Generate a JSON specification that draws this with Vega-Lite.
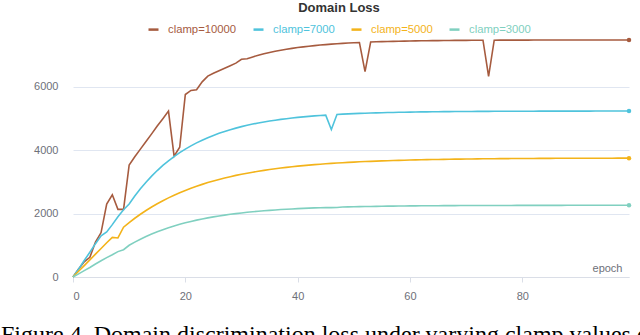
{
  "$schema": "https://vega.github.io/schema/vega-lite/v6.json",
  "autosize": {"type": "none"},
  "width": 556,
  "height": 238,
  "padding": {"left": 73, "top": 39, "right": 11, "bottom": 58},
  "background": "white",
  "title": {
    "text": "Figure 4. Domain discrimination loss under varying clamp values during adversarial training.",
    "orient": "bottom",
    "anchor": "start",
    "frame": "group",
    "dx": -72,
    "offset": 22,
    "baseline": "top",
    "font": "Liberation Serif",
    "fontSize": 24,
    "fontWeight": "normal",
    "color": "#000000"
  },
  "config": {
    "view": {"stroke": null},
    "font": "Liberation Sans"
  },
  "data": {"values": [
    {"epoch":0,"loss":0,"series":"clamp=10000"},{"epoch":1,"loss":250,"series":"clamp=10000"},{"epoch":2,"loss":480,"series":"clamp=10000"},{"epoch":3,"loss":620,"series":"clamp=10000"},{"epoch":4,"loss":1100,"series":"clamp=10000"},{"epoch":5,"loss":1400,"series":"clamp=10000"},{"epoch":6,"loss":2300,"series":"clamp=10000"},{"epoch":7,"loss":2590,"series":"clamp=10000"},{"epoch":8,"loss":2130,"series":"clamp=10000"},{"epoch":9,"loss":2130,"series":"clamp=10000"},
    {"epoch":10,"loss":3530,"series":"clamp=10000"},{"epoch":11,"loss":3790,"series":"clamp=10000"},{"epoch":12,"loss":4030,"series":"clamp=10000"},{"epoch":13,"loss":4270,"series":"clamp=10000"},{"epoch":14,"loss":4510,"series":"clamp=10000"},{"epoch":15,"loss":4760,"series":"clamp=10000"},{"epoch":16,"loss":4990,"series":"clamp=10000"},{"epoch":17,"loss":5230,"series":"clamp=10000"},{"epoch":18,"loss":3810,"series":"clamp=10000"},{"epoch":19,"loss":4090,"series":"clamp=10000"},
    {"epoch":20,"loss":5750,"series":"clamp=10000"},{"epoch":21,"loss":5880,"series":"clamp=10000"},{"epoch":22,"loss":5900,"series":"clamp=10000"},{"epoch":23,"loss":6150,"series":"clamp=10000"},{"epoch":24,"loss":6330,"series":"clamp=10000"},{"epoch":25,"loss":6420,"series":"clamp=10000"},{"epoch":26,"loss":6500,"series":"clamp=10000"},{"epoch":27,"loss":6580,"series":"clamp=10000"},{"epoch":28,"loss":6660,"series":"clamp=10000"},{"epoch":29,"loss":6740,"series":"clamp=10000"},
    {"epoch":30,"loss":6860,"series":"clamp=10000"},{"epoch":31,"loss":6880,"series":"clamp=10000"},{"epoch":32,"loss":6936,"series":"clamp=10000"},{"epoch":33,"loss":6987,"series":"clamp=10000"},{"epoch":34,"loss":7033,"series":"clamp=10000"},{"epoch":35,"loss":7075,"series":"clamp=10000"},{"epoch":36,"loss":7112,"series":"clamp=10000"},{"epoch":37,"loss":7146,"series":"clamp=10000"},{"epoch":38,"loss":7177,"series":"clamp=10000"},{"epoch":39,"loss":7205,"series":"clamp=10000"},
    {"epoch":40,"loss":7230,"series":"clamp=10000"},{"epoch":41,"loss":7253,"series":"clamp=10000"},{"epoch":42,"loss":7274,"series":"clamp=10000"},{"epoch":43,"loss":7292,"series":"clamp=10000"},{"epoch":44,"loss":7309,"series":"clamp=10000"},{"epoch":45,"loss":7324,"series":"clamp=10000"},{"epoch":46,"loss":7338,"series":"clamp=10000"},{"epoch":47,"loss":7351,"series":"clamp=10000"},{"epoch":48,"loss":7362,"series":"clamp=10000"},{"epoch":49,"loss":7372,"series":"clamp=10000"},
    {"epoch":50,"loss":7382,"series":"clamp=10000"},{"epoch":51,"loss":7390,"series":"clamp=10000"},{"epoch":52,"loss":6470,"series":"clamp=10000"},{"epoch":53,"loss":7405,"series":"clamp=10000"},{"epoch":54,"loss":7411,"series":"clamp=10000"},{"epoch":55,"loss":7416,"series":"clamp=10000"},{"epoch":56,"loss":7422,"series":"clamp=10000"},{"epoch":57,"loss":7426,"series":"clamp=10000"},{"epoch":58,"loss":7430,"series":"clamp=10000"},{"epoch":59,"loss":7434,"series":"clamp=10000"},
    {"epoch":60,"loss":7438,"series":"clamp=10000"},{"epoch":61,"loss":7441,"series":"clamp=10000"},{"epoch":62,"loss":7444,"series":"clamp=10000"},{"epoch":63,"loss":7446,"series":"clamp=10000"},{"epoch":64,"loss":7448,"series":"clamp=10000"},{"epoch":65,"loss":7450,"series":"clamp=10000"},{"epoch":66,"loss":7452,"series":"clamp=10000"},{"epoch":67,"loss":7454,"series":"clamp=10000"},{"epoch":68,"loss":7456,"series":"clamp=10000"},{"epoch":69,"loss":7457,"series":"clamp=10000"},
    {"epoch":70,"loss":7458,"series":"clamp=10000"},{"epoch":71,"loss":7459,"series":"clamp=10000"},{"epoch":72,"loss":7460,"series":"clamp=10000"},{"epoch":73,"loss":7461,"series":"clamp=10000"},{"epoch":74,"loss":6320,"series":"clamp=10000"},{"epoch":75,"loss":7463,"series":"clamp=10000"},{"epoch":76,"loss":7464,"series":"clamp=10000"},{"epoch":77,"loss":7464,"series":"clamp=10000"},{"epoch":78,"loss":7465,"series":"clamp=10000"},{"epoch":79,"loss":7465,"series":"clamp=10000"},
    {"epoch":80,"loss":7466,"series":"clamp=10000"},{"epoch":81,"loss":7466,"series":"clamp=10000"},{"epoch":82,"loss":7467,"series":"clamp=10000"},{"epoch":83,"loss":7467,"series":"clamp=10000"},{"epoch":84,"loss":7467,"series":"clamp=10000"},{"epoch":85,"loss":7468,"series":"clamp=10000"},{"epoch":86,"loss":7468,"series":"clamp=10000"},{"epoch":87,"loss":7468,"series":"clamp=10000"},{"epoch":88,"loss":7468,"series":"clamp=10000"},{"epoch":89,"loss":7469,"series":"clamp=10000"},
    {"epoch":90,"loss":7469,"series":"clamp=10000"},{"epoch":91,"loss":7469,"series":"clamp=10000"},{"epoch":92,"loss":7469,"series":"clamp=10000"},{"epoch":93,"loss":7469,"series":"clamp=10000"},{"epoch":94,"loss":7469,"series":"clamp=10000"},{"epoch":95,"loss":7470,"series":"clamp=10000"},{"epoch":96,"loss":7470,"series":"clamp=10000"},{"epoch":97,"loss":7470,"series":"clamp=10000"},{"epoch":98,"loss":7470,"series":"clamp=10000"},{"epoch":99,"loss":7470,"series":"clamp=10000"},

    {"epoch":0,"loss":0,"series":"clamp=7000"},{"epoch":1,"loss":250,"series":"clamp=7000"},{"epoch":2,"loss":520,"series":"clamp=7000"},{"epoch":3,"loss":780,"series":"clamp=7000"},{"epoch":4,"loss":1050,"series":"clamp=7000"},{"epoch":5,"loss":1300,"series":"clamp=7000"},{"epoch":6,"loss":1420,"series":"clamp=7000"},{"epoch":7,"loss":1650,"series":"clamp=7000"},{"epoch":8,"loss":1900,"series":"clamp=7000"},{"epoch":9,"loss":2120,"series":"clamp=7000"},
    {"epoch":10,"loss":2300,"series":"clamp=7000"},{"epoch":11,"loss":2550,"series":"clamp=7000"},{"epoch":12,"loss":2779,"series":"clamp=7000"},{"epoch":13,"loss":2988,"series":"clamp=7000"},{"epoch":14,"loss":3180,"series":"clamp=7000"},{"epoch":15,"loss":3355,"series":"clamp=7000"},{"epoch":16,"loss":3515,"series":"clamp=7000"},{"epoch":17,"loss":3661,"series":"clamp=7000"},{"epoch":18,"loss":3795,"series":"clamp=7000"},{"epoch":19,"loss":3918,"series":"clamp=7000"},
    {"epoch":20,"loss":4030,"series":"clamp=7000"},{"epoch":21,"loss":4132,"series":"clamp=7000"},{"epoch":22,"loss":4226,"series":"clamp=7000"},{"epoch":23,"loss":4312,"series":"clamp=7000"},{"epoch":24,"loss":4390,"series":"clamp=7000"},{"epoch":25,"loss":4462,"series":"clamp=7000"},{"epoch":26,"loss":4527,"series":"clamp=7000"},{"epoch":27,"loss":4587,"series":"clamp=7000"},{"epoch":28,"loss":4642,"series":"clamp=7000"},{"epoch":29,"loss":4692,"series":"clamp=7000"},
    {"epoch":30,"loss":4738,"series":"clamp=7000"},{"epoch":31,"loss":4780,"series":"clamp=7000"},{"epoch":32,"loss":4819,"series":"clamp=7000"},{"epoch":33,"loss":4854,"series":"clamp=7000"},{"epoch":34,"loss":4886,"series":"clamp=7000"},{"epoch":35,"loss":4915,"series":"clamp=7000"},{"epoch":36,"loss":4942,"series":"clamp=7000"},{"epoch":37,"loss":4967,"series":"clamp=7000"},{"epoch":38,"loss":4989,"series":"clamp=7000"},{"epoch":39,"loss":5010,"series":"clamp=7000"},
    {"epoch":40,"loss":5029,"series":"clamp=7000"},{"epoch":41,"loss":5046,"series":"clamp=7000"},{"epoch":42,"loss":5062,"series":"clamp=7000"},{"epoch":43,"loss":5076,"series":"clamp=7000"},{"epoch":44,"loss":5089,"series":"clamp=7000"},{"epoch":45,"loss":5101,"series":"clamp=7000"},{"epoch":46,"loss":4650,"series":"clamp=7000"},{"epoch":47,"loss":5122,"series":"clamp=7000"},{"epoch":48,"loss":5132,"series":"clamp=7000"},{"epoch":49,"loss":5140,"series":"clamp=7000"},
    {"epoch":50,"loss":5148,"series":"clamp=7000"},{"epoch":51,"loss":5155,"series":"clamp=7000"},{"epoch":52,"loss":5161,"series":"clamp=7000"},{"epoch":53,"loss":5167,"series":"clamp=7000"},{"epoch":54,"loss":5172,"series":"clamp=7000"},{"epoch":55,"loss":5177,"series":"clamp=7000"},{"epoch":56,"loss":5182,"series":"clamp=7000"},{"epoch":57,"loss":5186,"series":"clamp=7000"},{"epoch":58,"loss":5190,"series":"clamp=7000"},{"epoch":59,"loss":5193,"series":"clamp=7000"},
    {"epoch":60,"loss":5196,"series":"clamp=7000"},{"epoch":61,"loss":5199,"series":"clamp=7000"},{"epoch":62,"loss":5202,"series":"clamp=7000"},{"epoch":63,"loss":5204,"series":"clamp=7000"},{"epoch":64,"loss":5206,"series":"clamp=7000"},{"epoch":65,"loss":5208,"series":"clamp=7000"},{"epoch":66,"loss":5210,"series":"clamp=7000"},{"epoch":67,"loss":5212,"series":"clamp=7000"},{"epoch":68,"loss":5213,"series":"clamp=7000"},{"epoch":69,"loss":5215,"series":"clamp=7000"},
    {"epoch":70,"loss":5216,"series":"clamp=7000"},{"epoch":71,"loss":5217,"series":"clamp=7000"},{"epoch":72,"loss":5218,"series":"clamp=7000"},{"epoch":73,"loss":5219,"series":"clamp=7000"},{"epoch":74,"loss":5220,"series":"clamp=7000"},{"epoch":75,"loss":5221,"series":"clamp=7000"},{"epoch":76,"loss":5222,"series":"clamp=7000"},{"epoch":77,"loss":5222,"series":"clamp=7000"},{"epoch":78,"loss":5223,"series":"clamp=7000"},{"epoch":79,"loss":5224,"series":"clamp=7000"},
    {"epoch":80,"loss":5224,"series":"clamp=7000"},{"epoch":81,"loss":5225,"series":"clamp=7000"},{"epoch":82,"loss":5225,"series":"clamp=7000"},{"epoch":83,"loss":5226,"series":"clamp=7000"},{"epoch":84,"loss":5226,"series":"clamp=7000"},{"epoch":85,"loss":5226,"series":"clamp=7000"},{"epoch":86,"loss":5227,"series":"clamp=7000"},{"epoch":87,"loss":5227,"series":"clamp=7000"},{"epoch":88,"loss":5227,"series":"clamp=7000"},{"epoch":89,"loss":5228,"series":"clamp=7000"},
    {"epoch":90,"loss":5228,"series":"clamp=7000"},{"epoch":91,"loss":5228,"series":"clamp=7000"},{"epoch":92,"loss":5228,"series":"clamp=7000"},{"epoch":93,"loss":5229,"series":"clamp=7000"},{"epoch":94,"loss":5229,"series":"clamp=7000"},{"epoch":95,"loss":5229,"series":"clamp=7000"},{"epoch":96,"loss":5229,"series":"clamp=7000"},{"epoch":97,"loss":5229,"series":"clamp=7000"},{"epoch":98,"loss":5230,"series":"clamp=7000"},{"epoch":99,"loss":5230,"series":"clamp=7000"},

    {"epoch":0,"loss":0,"series":"clamp=5000"},{"epoch":1,"loss":180,"series":"clamp=5000"},{"epoch":2,"loss":360,"series":"clamp=5000"},{"epoch":3,"loss":540,"series":"clamp=5000"},{"epoch":4,"loss":720,"series":"clamp=5000"},{"epoch":5,"loss":900,"series":"clamp=5000"},{"epoch":6,"loss":1080,"series":"clamp=5000"},{"epoch":7,"loss":1250,"series":"clamp=5000"},{"epoch":8,"loss":1230,"series":"clamp=5000"},{"epoch":9,"loss":1570,"series":"clamp=5000"},
    {"epoch":10,"loss":1715,"series":"clamp=5000"},{"epoch":11,"loss":1851,"series":"clamp=5000"},{"epoch":12,"loss":1977,"series":"clamp=5000"},{"epoch":13,"loss":2095,"series":"clamp=5000"},{"epoch":14,"loss":2206,"series":"clamp=5000"},{"epoch":15,"loss":2309,"series":"clamp=5000"},{"epoch":16,"loss":2405,"series":"clamp=5000"},{"epoch":17,"loss":2494,"series":"clamp=5000"},{"epoch":18,"loss":2578,"series":"clamp=5000"},{"epoch":19,"loss":2656,"series":"clamp=5000"},
    {"epoch":20,"loss":2729,"series":"clamp=5000"},{"epoch":21,"loss":2797,"series":"clamp=5000"},{"epoch":22,"loss":2860,"series":"clamp=5000"},{"epoch":23,"loss":2919,"series":"clamp=5000"},{"epoch":24,"loss":2975,"series":"clamp=5000"},{"epoch":25,"loss":3026,"series":"clamp=5000"},{"epoch":26,"loss":3075,"series":"clamp=5000"},{"epoch":27,"loss":3120,"series":"clamp=5000"},{"epoch":28,"loss":3162,"series":"clamp=5000"},{"epoch":29,"loss":3202,"series":"clamp=5000"},
    {"epoch":30,"loss":3237,"series":"clamp=5000"},{"epoch":31,"loss":3271,"series":"clamp=5000"},{"epoch":32,"loss":3303,"series":"clamp=5000"},{"epoch":33,"loss":3333,"series":"clamp=5000"},{"epoch":34,"loss":3361,"series":"clamp=5000"},{"epoch":35,"loss":3387,"series":"clamp=5000"},{"epoch":36,"loss":3411,"series":"clamp=5000"},{"epoch":37,"loss":3433,"series":"clamp=5000"},{"epoch":38,"loss":3455,"series":"clamp=5000"},{"epoch":39,"loss":3474,"series":"clamp=5000"},
    {"epoch":40,"loss":3493,"series":"clamp=5000"},{"epoch":41,"loss":3510,"series":"clamp=5000"},{"epoch":42,"loss":3526,"series":"clamp=5000"},{"epoch":43,"loss":3541,"series":"clamp=5000"},{"epoch":44,"loss":3555,"series":"clamp=5000"},{"epoch":45,"loss":3568,"series":"clamp=5000"},{"epoch":46,"loss":3580,"series":"clamp=5000"},{"epoch":47,"loss":3591,"series":"clamp=5000"},{"epoch":48,"loss":3602,"series":"clamp=5000"},{"epoch":49,"loss":3612,"series":"clamp=5000"},
    {"epoch":50,"loss":3621,"series":"clamp=5000"},{"epoch":51,"loss":3630,"series":"clamp=5000"},{"epoch":52,"loss":3638,"series":"clamp=5000"},{"epoch":53,"loss":3645,"series":"clamp=5000"},{"epoch":54,"loss":3652,"series":"clamp=5000"},{"epoch":55,"loss":3659,"series":"clamp=5000"},{"epoch":56,"loss":3665,"series":"clamp=5000"},{"epoch":57,"loss":3670,"series":"clamp=5000"},{"epoch":58,"loss":3676,"series":"clamp=5000"},{"epoch":59,"loss":3681,"series":"clamp=5000"},
    {"epoch":60,"loss":3685,"series":"clamp=5000"},{"epoch":61,"loss":3690,"series":"clamp=5000"},{"epoch":62,"loss":3694,"series":"clamp=5000"},{"epoch":63,"loss":3698,"series":"clamp=5000"},{"epoch":64,"loss":3701,"series":"clamp=5000"},{"epoch":65,"loss":3704,"series":"clamp=5000"},{"epoch":66,"loss":3707,"series":"clamp=5000"},{"epoch":67,"loss":3710,"series":"clamp=5000"},{"epoch":68,"loss":3713,"series":"clamp=5000"},{"epoch":69,"loss":3715,"series":"clamp=5000"},
    {"epoch":70,"loss":3718,"series":"clamp=5000"},{"epoch":71,"loss":3720,"series":"clamp=5000"},{"epoch":72,"loss":3722,"series":"clamp=5000"},{"epoch":73,"loss":3724,"series":"clamp=5000"},{"epoch":74,"loss":3725,"series":"clamp=5000"},{"epoch":75,"loss":3727,"series":"clamp=5000"},{"epoch":76,"loss":3729,"series":"clamp=5000"},{"epoch":77,"loss":3730,"series":"clamp=5000"},{"epoch":78,"loss":3732,"series":"clamp=5000"},{"epoch":79,"loss":3733,"series":"clamp=5000"},
    {"epoch":80,"loss":3734,"series":"clamp=5000"},{"epoch":81,"loss":3735,"series":"clamp=5000"},{"epoch":82,"loss":3736,"series":"clamp=5000"},{"epoch":83,"loss":3737,"series":"clamp=5000"},{"epoch":84,"loss":3738,"series":"clamp=5000"},{"epoch":85,"loss":3739,"series":"clamp=5000"},{"epoch":86,"loss":3740,"series":"clamp=5000"},{"epoch":87,"loss":3740,"series":"clamp=5000"},{"epoch":88,"loss":3741,"series":"clamp=5000"},{"epoch":89,"loss":3741,"series":"clamp=5000"},
    {"epoch":90,"loss":3742,"series":"clamp=5000"},{"epoch":91,"loss":3742,"series":"clamp=5000"},{"epoch":92,"loss":3743,"series":"clamp=5000"},{"epoch":93,"loss":3743,"series":"clamp=5000"},{"epoch":94,"loss":3744,"series":"clamp=5000"},{"epoch":95,"loss":3744,"series":"clamp=5000"},{"epoch":96,"loss":3744,"series":"clamp=5000"},{"epoch":97,"loss":3745,"series":"clamp=5000"},{"epoch":98,"loss":3745,"series":"clamp=5000"},{"epoch":99,"loss":3745,"series":"clamp=5000"},

    {"epoch":0,"loss":0,"series":"clamp=3000"},{"epoch":1,"loss":100,"series":"clamp=3000"},{"epoch":2,"loss":200,"series":"clamp=3000"},{"epoch":3,"loss":300,"series":"clamp=3000"},{"epoch":4,"loss":410,"series":"clamp=3000"},{"epoch":5,"loss":510,"series":"clamp=3000"},{"epoch":6,"loss":610,"series":"clamp=3000"},{"epoch":7,"loss":700,"series":"clamp=3000"},{"epoch":8,"loss":800,"series":"clamp=3000"},{"epoch":9,"loss":860,"series":"clamp=3000"},
    {"epoch":10,"loss":1000,"series":"clamp=3000"},{"epoch":11,"loss":1100,"series":"clamp=3000"},{"epoch":12,"loss":1192,"series":"clamp=3000"},{"epoch":13,"loss":1277,"series":"clamp=3000"},{"epoch":14,"loss":1355,"series":"clamp=3000"},{"epoch":15,"loss":1426,"series":"clamp=3000"},{"epoch":16,"loss":1492,"series":"clamp=3000"},{"epoch":17,"loss":1553,"series":"clamp=3000"},{"epoch":18,"loss":1609,"series":"clamp=3000"},{"epoch":19,"loss":1661,"series":"clamp=3000"},
    {"epoch":20,"loss":1708,"series":"clamp=3000"},{"epoch":21,"loss":1752,"series":"clamp=3000"},{"epoch":22,"loss":1792,"series":"clamp=3000"},{"epoch":23,"loss":1829,"series":"clamp=3000"},{"epoch":24,"loss":1864,"series":"clamp=3000"},{"epoch":25,"loss":1895,"series":"clamp=3000"},{"epoch":26,"loss":1924,"series":"clamp=3000"},{"epoch":27,"loss":1951,"series":"clamp=3000"},{"epoch":28,"loss":1975,"series":"clamp=3000"},{"epoch":29,"loss":1998,"series":"clamp=3000"},
    {"epoch":30,"loss":2018,"series":"clamp=3000"},{"epoch":31,"loss":2038,"series":"clamp=3000"},{"epoch":32,"loss":2055,"series":"clamp=3000"},{"epoch":33,"loss":2072,"series":"clamp=3000"},{"epoch":34,"loss":2086,"series":"clamp=3000"},{"epoch":35,"loss":2100,"series":"clamp=3000"},{"epoch":36,"loss":2113,"series":"clamp=3000"},{"epoch":37,"loss":2125,"series":"clamp=3000"},{"epoch":38,"loss":2135,"series":"clamp=3000"},{"epoch":39,"loss":2145,"series":"clamp=3000"},
    {"epoch":40,"loss":2154,"series":"clamp=3000"},{"epoch":41,"loss":2163,"series":"clamp=3000"},{"epoch":42,"loss":2170,"series":"clamp=3000"},{"epoch":43,"loss":2177,"series":"clamp=3000"},{"epoch":44,"loss":2184,"series":"clamp=3000"},{"epoch":45,"loss":2190,"series":"clamp=3000"},{"epoch":46,"loss":2185,"series":"clamp=3000"},{"epoch":47,"loss":2190,"series":"clamp=3000"},{"epoch":48,"loss":2205,"series":"clamp=3000"},{"epoch":49,"loss":2210,"series":"clamp=3000"},
    {"epoch":50,"loss":2214,"series":"clamp=3000"},{"epoch":51,"loss":2217,"series":"clamp=3000"},{"epoch":52,"loss":2221,"series":"clamp=3000"},{"epoch":53,"loss":2224,"series":"clamp=3000"},{"epoch":54,"loss":2227,"series":"clamp=3000"},{"epoch":55,"loss":2229,"series":"clamp=3000"},{"epoch":56,"loss":2232,"series":"clamp=3000"},{"epoch":57,"loss":2234,"series":"clamp=3000"},{"epoch":58,"loss":2236,"series":"clamp=3000"},{"epoch":59,"loss":2238,"series":"clamp=3000"},
    {"epoch":60,"loss":2240,"series":"clamp=3000"},{"epoch":61,"loss":2241,"series":"clamp=3000"},{"epoch":62,"loss":2243,"series":"clamp=3000"},{"epoch":63,"loss":2244,"series":"clamp=3000"},{"epoch":64,"loss":2245,"series":"clamp=3000"},{"epoch":65,"loss":2247,"series":"clamp=3000"},{"epoch":66,"loss":2248,"series":"clamp=3000"},{"epoch":67,"loss":2249,"series":"clamp=3000"},{"epoch":68,"loss":2250,"series":"clamp=3000"},{"epoch":69,"loss":2251,"series":"clamp=3000"},
    {"epoch":70,"loss":2251,"series":"clamp=3000"},{"epoch":71,"loss":2252,"series":"clamp=3000"},{"epoch":72,"loss":2253,"series":"clamp=3000"},{"epoch":73,"loss":2253,"series":"clamp=3000"},{"epoch":74,"loss":2253,"series":"clamp=3000"},{"epoch":75,"loss":2254,"series":"clamp=3000"},{"epoch":76,"loss":2254,"series":"clamp=3000"},{"epoch":77,"loss":2255,"series":"clamp=3000"},{"epoch":78,"loss":2255,"series":"clamp=3000"},{"epoch":79,"loss":2256,"series":"clamp=3000"},
    {"epoch":80,"loss":2256,"series":"clamp=3000"},{"epoch":81,"loss":2257,"series":"clamp=3000"},{"epoch":82,"loss":2257,"series":"clamp=3000"},{"epoch":83,"loss":2257,"series":"clamp=3000"},{"epoch":84,"loss":2258,"series":"clamp=3000"},{"epoch":85,"loss":2258,"series":"clamp=3000"},{"epoch":86,"loss":2258,"series":"clamp=3000"},{"epoch":87,"loss":2258,"series":"clamp=3000"},{"epoch":88,"loss":2259,"series":"clamp=3000"},{"epoch":89,"loss":2259,"series":"clamp=3000"},
    {"epoch":90,"loss":2259,"series":"clamp=3000"},{"epoch":91,"loss":2259,"series":"clamp=3000"},{"epoch":92,"loss":2259,"series":"clamp=3000"},{"epoch":93,"loss":2260,"series":"clamp=3000"},{"epoch":94,"loss":2260,"series":"clamp=3000"},{"epoch":95,"loss":2260,"series":"clamp=3000"},{"epoch":96,"loss":2260,"series":"clamp=3000"},{"epoch":97,"loss":2260,"series":"clamp=3000"},{"epoch":98,"loss":2260,"series":"clamp=3000"},{"epoch":99,"loss":2260,"series":"clamp=3000"}
  ]},
  "encoding": {
    "x": {
      "field": "epoch",
      "type": "quantitative",
      "scale": {"domain": [0, 99], "nice": false, "zero": false},
      "axis": {
        "values": [0, 20, 40, 60, 80],
        "grid": false,
        "domainColor": "#DADEE7",
        "tickColor": "#DADEE7",
        "tickSize": 5,
        "labelColor": "#6E7079",
        "labelFontSize": 11,
        "labelPadding": 8,
        "labelFont": "Liberation Sans",
        "title": "epoch",
        "titleX": 549,
        "titleY": -9,
        "titleAlign": "right",
        "titleBaseline": "middle",
        "titleFont": "Liberation Sans",
        "titleFontSize": 11,
        "titleFontWeight": "normal",
        "titleColor": "#6E7079"
      }
    },
    "y": {
      "field": "loss",
      "type": "quantitative",
      "scale": {"domain": [0, 7500], "nice": false},
      "axis": {
        "values": [0, 2000, 4000, 6000],
        "format": "d",
        "grid": true,
        "gridColor": "#E0E6F1",
        "domain": false,
        "ticks": false,
        "tickSize": 0,
        "labelPadding": 15,
        "labelColor": "#6E7079",
        "labelFontSize": 11,
        "labelFont": "Liberation Sans",
        "title": null
      }
    },
    "color": {
      "field": "series",
      "type": "nominal",
      "scale": {
        "domain": ["clamp=10000", "clamp=7000", "clamp=5000", "clamp=3000"],
        "range": ["#a65b3f", "#4fc3dc", "#f3b31a", "#80d0c0"]
      },
      "legend": {
        "orient": "none",
        "legendX": 74,
        "legendY": -37,
        "direction": "horizontal",
        "padding": 0,
        "title": "Domain Loss",
        "titleFont": "Liberation Sans",
        "titleFontSize": 13,
        "titleFontWeight": "bold",
        "titleColor": "#333333",
        "titleAnchor": "middle",
        "titleAlign": "center",
        "titlePadding": 8,
        "symbolType": "stroke",
        "symbolSize": 100,
        "symbolStrokeWidth": 2.5,
        "labelFont": "Liberation Sans",
        "labelFontSize": 11.3,
        "labelOffset": 8,
        "columnPadding": 11,
        "labelColor": {"expr": "datum.value === 'clamp=10000' ? '#a65b3f' : datum.value === 'clamp=7000' ? '#4fc3dc' : datum.value === 'clamp=5000' ? '#f3b31a' : '#80d0c0'"}
      }
    }
  },
  "layer": [
    {"mark": {"type": "line", "strokeWidth": 1.6, "interpolate": "linear"}},
    {
      "transform": [{"filter": "datum.epoch === 99"}],
      "mark": {"type": "point", "filled": true, "size": 20, "opacity": 1}
    }
  ]
}
